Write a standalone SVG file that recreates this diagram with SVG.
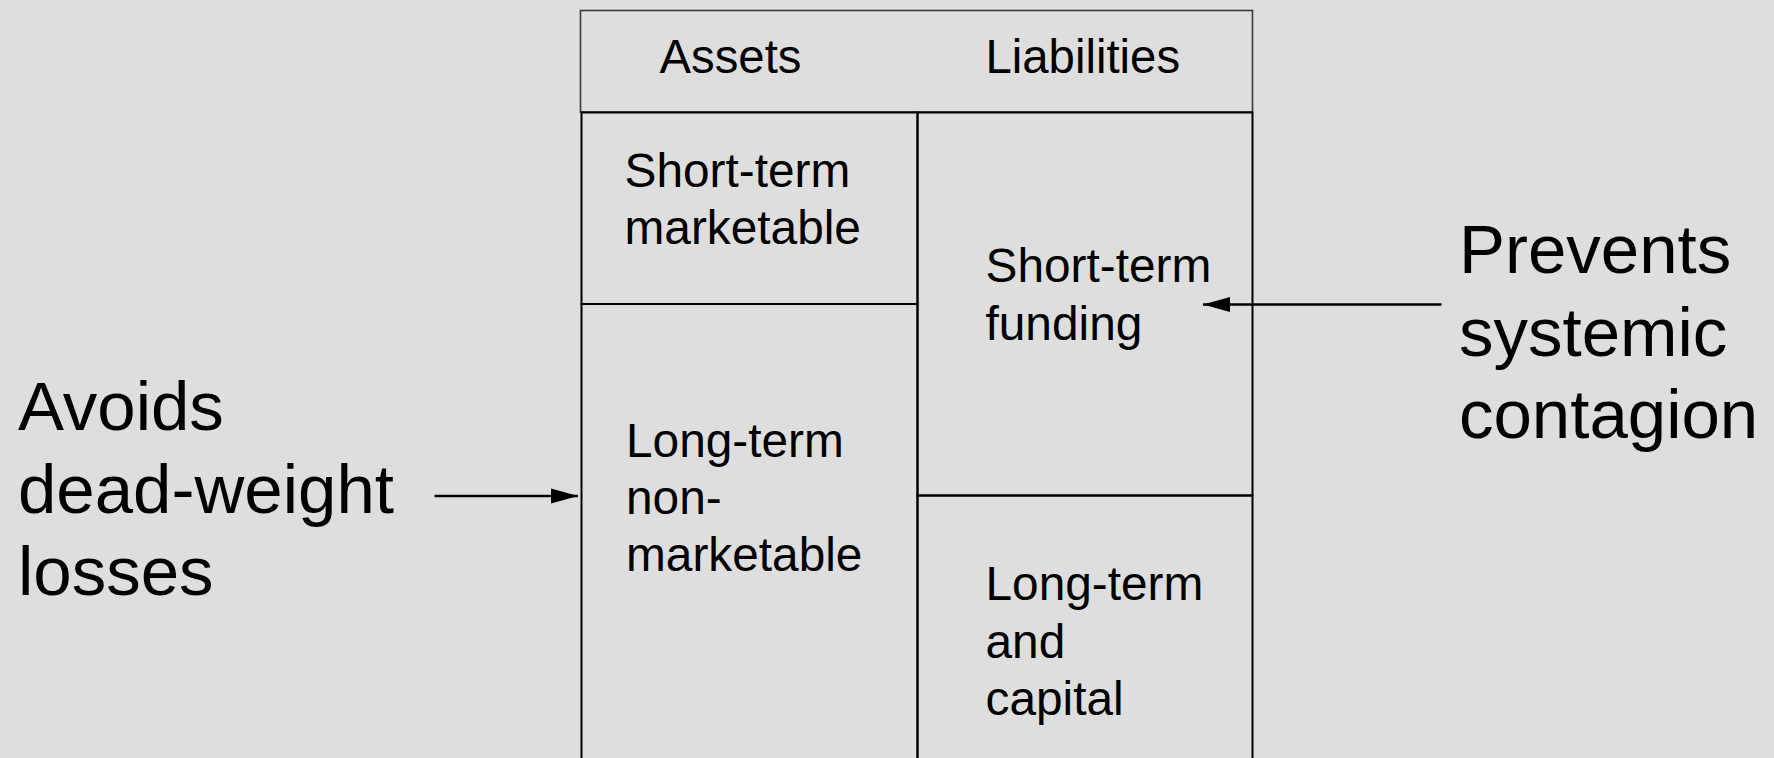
<svg xmlns="http://www.w3.org/2000/svg" width="1774" height="758" viewBox="0 0 1774 758">
<style>
.cell{fill:none;stroke:#000;stroke-width:2}
.hdr{fill:none;stroke:#3a3a3a;stroke-width:1.6}
.t{font-family:"Liberation Sans",Arial,sans-serif;font-size:47.8px;fill:#000}
.h{font-family:"Liberation Sans",Arial,sans-serif;font-size:47.3px;fill:#000}
.big{font-family:"Liberation Sans",Arial,sans-serif;font-size:69px;fill:#000}
.conn{stroke:#000;stroke-width:2.5;fill:none}
</style>
<defs>
<marker id="ah" markerUnits="userSpaceOnUse" markerWidth="28" markerHeight="16" refX="27" refY="8" orient="auto">
<path d="M0,0.5 L27,8 L0,15.5 Z" fill="#000"/>
</marker>
</defs>
<rect width="1774" height="758" fill="#dedede"/>
<g id="header">
<rect class="hdr" x="580.5" y="10.5" width="672" height="101.5"/>
<text class="h" x="659.5" y="73">Assets</text>
<text class="h" x="985.5" y="73">Liabilities</text>
</g>
<g id="short-term-marketable">
<rect class="cell" x="581.5" y="112.5" width="336" height="191.5"/>
<text class="t" x="624.5" y="187">Short-term</text>
<text class="t" x="624.5" y="244">marketable</text>
</g>
<g id="long-term-non-marketable">
<rect class="cell" x="581.5" y="304" width="336" height="480"/>
<text class="t" x="626" y="457">Long-term</text>
<text class="t" x="626" y="514">non-</text>
<text class="t" x="626" y="571">marketable</text>
</g>
<g id="short-term-funding">
<rect class="cell" x="917.5" y="112.5" width="335" height="383"/>
<text class="t" x="985.5" y="282">Short-term</text>
<text class="t" x="985.5" y="340">funding</text>
</g>
<g id="long-term-capital">
<rect class="cell" x="917.5" y="495.5" width="335" height="290"/>
<text class="t" x="985.5" y="600">Long-term</text>
<text class="t" x="985.5" y="658">and</text>
<text class="t" x="985.5" y="715">capital</text>
</g>
<g id="avoids-label">
<text class="big" x="18" y="430">Avoids</text>
<text class="big" x="18" y="513">dead-weight</text>
<text class="big" x="18" y="595">losses</text>
</g>
<g id="prevents-label">
<text class="big" x="1459" y="273">Prevents</text>
<text class="big" x="1459" y="356">systemic</text>
<text class="big" x="1459" y="438">contagion</text>
</g>
<g id="connectors">
<line class="conn" x1="434.5" y1="496" x2="578" y2="496" marker-end="url(#ah)"/>
<line class="conn" x1="1441.5" y1="304.5" x2="1203" y2="304.5" marker-end="url(#ah)"/>
</g>
</svg>
